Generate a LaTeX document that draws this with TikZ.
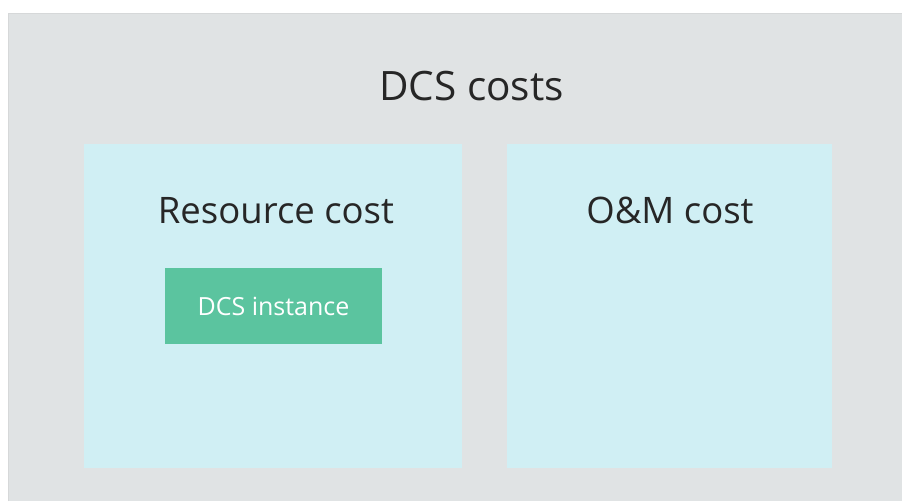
\documentclass[tikz,border=0pt]{standalone}
\usepackage{fontspec}
\setmainfont{Open Sans}
\usetikzlibrary{positioning}

\definecolor{outergray}{HTML}{E0E3E4}
\definecolor{outeredge}{HTML}{D6D8D9}
\definecolor{panelblue}{HTML}{D0EFF4}
\definecolor{itemgreen}{HTML}{5BC49F}
\definecolor{textdark}{HTML}{262626}

\begin{document}
\begin{tikzpicture}[
    x=1pt, y=-1pt,
    every node/.style={align=center, text=textdark},
    panel/.style={fill=panelblue, draw=none, minimum width=378pt, minimum height=324pt, anchor=north west, inner sep=0pt},
    item/.style={fill=itemgreen, draw=none, text=white, minimum width=217pt, minimum height=76pt, inner sep=0pt, font=\fontsize{25}{28}\selectfont},
    heading/.style={anchor=base, inner sep=0pt}
]

    % Page size
    \useasboundingbox (0, 0) rectangle (902, 501);
    \fill[white] (0, 0) rectangle (902, 501);

    % Outer gray box
    \fill[outergray] (8, 13) rectangle (902, 501);
    \draw[outeredge, line width=1.2pt] (8.6, 501) -- (8.6, 13.6) -- (902, 13.6);

    % Title
    \node[heading, font=\fontsize{40.5}{44}\selectfont] (title) at (471.5, 100) {DCS costs};

    % Cost panels
    \node[panel] (res) at (84, 144) {};
    \node[panel, minimum width=325pt] (om) at (507, 144) {};

    % Panel headings
    \node[heading, font=\fontsize{36.5}{40}\selectfont] (resTitle) at (276, 223) {Resource cost};
    \node[heading, font=\fontsize{36.5}{40}\selectfont] (omTitle) at (670, 223) {O\&M cost};

    % Resource item
    \node[item] (inst) at (273.5, 306) {DCS instance};

\end{tikzpicture}
\end{document}
